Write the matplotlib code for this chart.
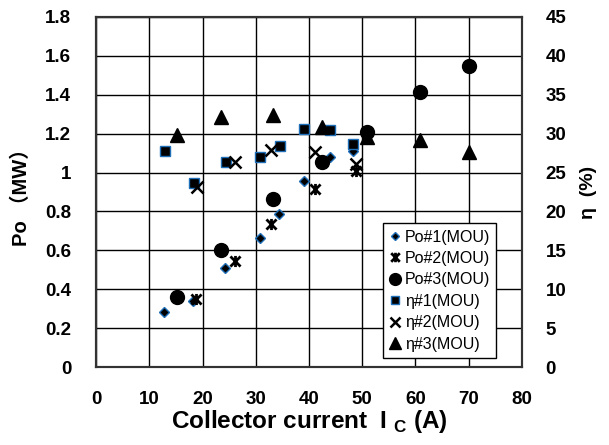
import numpy as np
import matplotlib
matplotlib.use("Agg")
import matplotlib.pyplot as plt
from matplotlib.path import Path

plt.rcParams['font.family'] = ['Liberation Sans', 'Noto Sans CJK JP', 'DejaVu Sans']
plt.rcParams['font.weight'] = 'bold'
plt.rcParams['mathtext.fontset'] = 'custom'
plt.rcParams['mathtext.bf'] = 'Liberation Sans:bold'
plt.rcParams['mathtext.rm'] = 'Liberation Sans:bold'

# Po (MW) vs collector current (A)
ic_po1 = [12.8, 18.1, 24.2, 30.8, 34.4, 39.0, 43.9, 48.3]
po1 = [0.285, 0.34, 0.51, 0.665, 0.785, 0.955, 1.08, 1.11]
ic_po2 = [18.7, 26.0, 32.8, 41.2, 48.8]
po2 = [0.35, 0.545, 0.735, 0.915, 1.01]
ic_po3 = [15.2, 23.4, 33.3, 42.5, 50.8, 60.9, 70.0]
po3 = [0.362, 0.602, 0.864, 1.056, 1.21, 1.415, 1.55]

# efficiency (%) vs collector current (A)
ic_eta1 = [13.0, 18.3, 24.3, 30.8, 34.5, 39.0, 44.0, 48.3]
eta1 = [27.8, 23.6, 26.4, 27.0, 28.4, 30.6, 30.5, 28.7]
ic_eta2 = [18.9, 26.0, 32.8, 41.2, 48.8]
eta2 = [23.2, 26.4, 27.9, 27.7, 26.1]
ic_eta3 = [15.2, 23.4, 33.2, 42.5, 50.8, 60.8, 70.0]
eta3 = [29.8, 32.2, 32.4, 30.9, 29.6, 29.2, 27.6]

blue = '#1f6fb8'

# excel style "star": an x with a vertical bar through it
star = Path([(-1, -1), (1, 1), (-1, 1), (1, -1), (0, -1.1), (0, 1.1)],
            [Path.MOVETO, Path.LINETO, Path.MOVETO, Path.LINETO, Path.MOVETO, Path.LINETO])

fig = plt.figure(figsize=(6.09, 4.45), dpi=100)
ax = fig.add_axes([0.158, 0.175, 0.699, 0.787])
ax2 = ax.twinx()

h1, = ax.plot(ic_po1, po1, 'D', ms=5, mfc='black', mec=blue, mew=1, ls='none', label='Po#1(MOU)')
h2, = ax.plot(ic_po2, po2, marker=star, ms=8, mec='black', mfc='none', mew=2, ls='none', label='Po#2(MOU)')
h3, = ax.plot(ic_po3, po3, 'o', ms=10, color='black', ls='none', label='Po#3(MOU)')
h4, = ax2.plot(ic_eta1, eta1, 's', ms=6.5, mfc='black', mec=blue, mew=1, ls='none', label='η#1(MOU)')
h5, = ax2.plot(ic_eta2, eta2, 'x', ms=8, mec='black', mew=1.8, ls='none', label='η#2(MOU)')
h6, = ax2.plot(ic_eta3, eta3, '^', ms=10, color='black', ls='none', label='η#3(MOU)')

ax.set_xlim(0, 80)
ax.set_ylim(0, 1.8)
ax2.set_ylim(0, 45)
ax.set_xticks(np.arange(0, 81, 10))
ax.set_yticks(np.arange(0, 1.81, 0.2))
ax.set_yticklabels(['0', '0.2', '0.4', '0.6', '0.8', '1', '1.2', '1.4', '1.6', '1.8'])
ax2.set_yticks(np.arange(0, 46, 5))

ax.grid(True, color='black', lw=1)
ax.set_axisbelow(True)
for a in (ax, ax2):
    for s in a.spines.values():
        s.set_linewidth(1.5)
        s.set_color('#333333')
    a.tick_params(length=0, labelsize=13.5)
ax.tick_params(axis='y', pad=18)
ax.tick_params(axis='x', pad=17)
ax2.tick_params(axis='y', pad=17)

ax.set_ylabel('Po （MW）', fontsize=14.5, fontweight='bold', labelpad=10)
ax2.set_ylabel('η  (%)', fontsize=14, fontweight='bold', labelpad=10, rotation=90)
ax.set_xlabel(r'Collector current  I $_{\mathbf{C}}$ (A)', fontsize=17.5, fontweight='bold', labelpad=0)

leg = ax2.legend(handles=[h1, h2, h3, h4, h5, h6], loc='lower left',
                 bbox_to_anchor=(0.674, 0.026), frameon=True,
                 prop={'size': 11.5, 'weight': 'normal'},
                 fancybox=False, edgecolor='black', framealpha=1,
                 handlelength=0.7, handletextpad=0.25, borderpad=0.4,
                 borderaxespad=0, labelspacing=0.4, markerscale=0.85)
leg.get_frame().set_linewidth(1)

fig.savefig('out.png', dpi=100)
